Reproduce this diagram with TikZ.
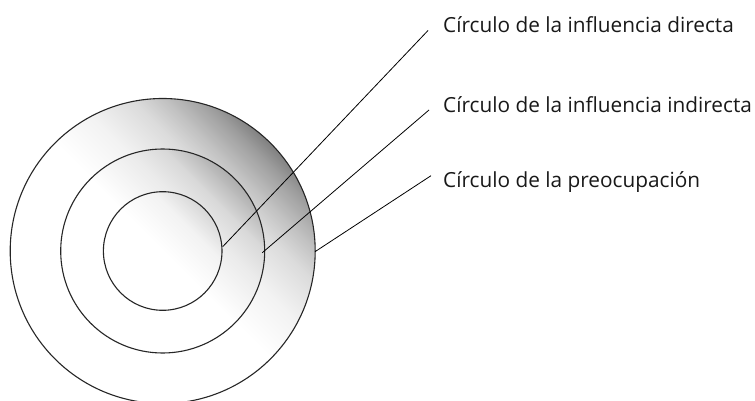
\documentclass[tikz,border=0pt]{standalone}
\usepackage{fontspec}
\setmainfont{Open Sans}
\pgfdeclareverticalshading{outershade}{310bp}{color(0bp)=(white); color(155bp)=(white); color(200bp)=(black!5); color(240bp)=(black!14); color(263bp)=(black!24); color(290bp)=(black!38); color(310bp)=(black!52)}
\pgfdeclareverticalshading{middleshade}{206bp}{color(0bp)=(white); color(103bp)=(white); color(150bp)=(black!8); color(175bp)=(black!15); color(206bp)=(black!33)}
\pgfdeclareverticalshading{innershade}{120bp}{color(0bp)=(white); color(60bp)=(white); color(95bp)=(black!5); color(120bp)=(black!16)}
\tikzset{
  ring/.style={draw=black!85, line width=1.1pt},
  leader/.style={draw=black, line width=0.8pt},
  lab/.style={anchor=base west, inner sep=0pt, font=\fontsize{20.8}{24}\selectfont, text=black!90}
}
\begin{document}
\begin{tikzpicture}[x=1pt,y=-1pt]
\useasboundingbox (0,0) rectangle (755,401);
\coordinate (C) at (162.7,251);
% shaded discs
\begin{scope}
  \clip (C) circle (152.5pt);
  \node[inner sep=0pt, rotate=-45] (sh1) at (C) {\pgfuseshading{outershade}};
\end{scope}
\begin{scope}
  \clip (C) circle (102pt);
  \node[inner sep=0pt, rotate=-45] (sh2) at (C) {\pgfuseshading{middleshade}};
\end{scope}
\begin{scope}
  \clip (C) circle (59.3pt);
  \node[inner sep=0pt, rotate=-45] (sh3) at (C) {\pgfuseshading{innershade}};
\end{scope}
\draw[ring] (C) circle (152.5pt);
\draw[ring] (C) circle (102pt);
\draw[ring] (C) circle (59.3pt);
% labels
\node[lab] (t1) at (443,32.5) {Círculo de la influencia directa};
\node[lab] (t2) at (443,112.5) {Círculo de la influencia indirecta};
\node[lab] (t3) at (443,187.5) {Círculo de la preocupación};
% leader end points
\coordinate (p1) at (222.7,246.7);
\coordinate (q1) at (428,30.5);
\coordinate (p2) at (262.3,252.7);
\coordinate (q2) at (429,110);
\coordinate (p3) at (315,251.7);
\coordinate (q3) at (431,175.7);
\draw[leader] (p1) -- (q1);
\draw[leader] (p2) -- (q2);
\draw[leader] (p3) -- (q3);
\end{tikzpicture}
\end{document}
